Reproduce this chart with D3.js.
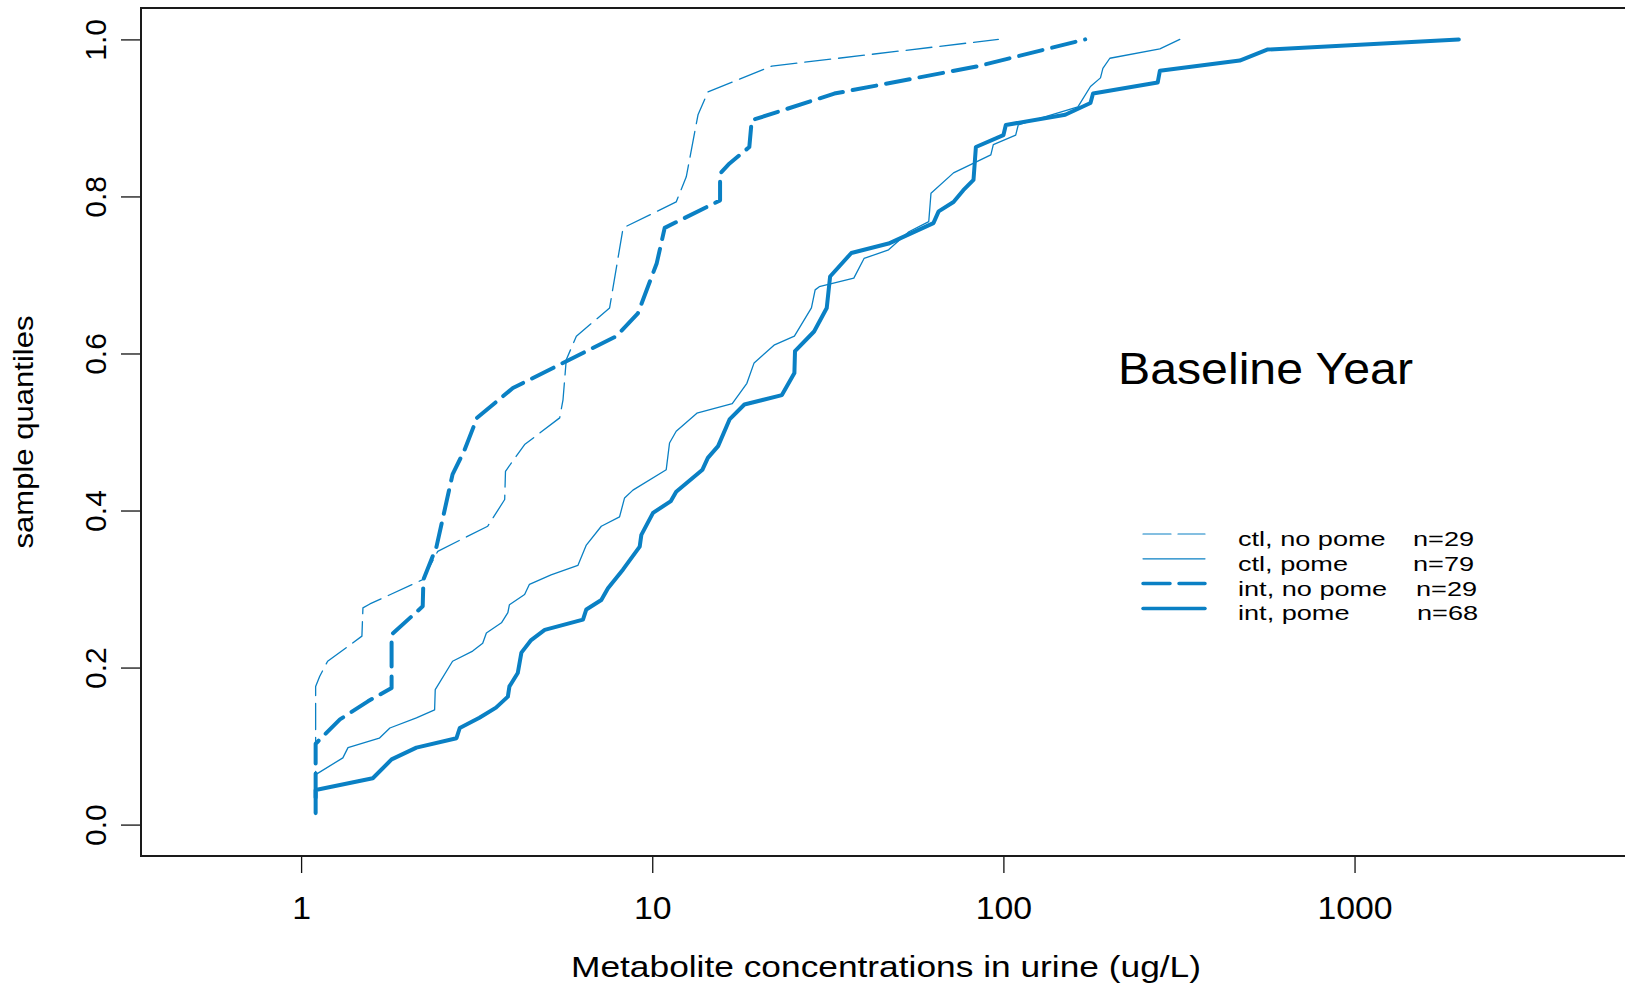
<!DOCTYPE html>
<html>
<head>
<meta charset="utf-8">
<script src="https://cdn.jsdelivr.net/npm/d3@7"></script>
<style>
  html, body { margin: 0; padding: 0; background: #fff; }
  svg { display: block; font-family: "Liberation Sans", Arial, Helvetica, sans-serif; }
</style>
</head>
<body>
<svg id="chart" width="1625" height="987"></svg>
<script>
// Empirical quantile curves: metabolite concentration (ug/L) vs sample quantile.
const ctlNoPomeConc = [1.1, 1.1, 1.1, 1.13, 1.19, 1.49, 1.50, 1.57, 2.22, 2.45, 3.40, 3.80, 3.82, 4.33, 5.45, 5.57, 5.69, 6.08, 7.56, 8.26, 11.7, 12.5, 13.5, 14.4, 21.9, 96.7];
const ctlNoPomeQ    = [0.0345, 0.142, 0.176, 0.189, 0.208, 0.240, 0.276, 0.281, 0.312, 0.348, 0.380, 0.414, 0.450, 0.484, 0.518, 0.541, 0.592, 0.622, 0.658, 0.760, 0.793, 0.825, 0.904, 0.933, 0.966, 1.0];

const ctlPomeConc = [1.1, 1.1, 1.315, 1.36, 1.67, 1.79, 2.13, 2.40, 2.41, 2.70, 3.08, 3.29, 3.37, 3.72, 3.88, 3.92, 4.33, 4.47, 5.15, 6.14, 6.49, 7.16, 8.07, 8.34, 8.81, 10.96, 11.2, 11.7, 13.4, 16.9, 18.6, 19.5, 22.3, 25.4, 28.4, 29.1, 29.9, 37.5, 40.1, 47.1, 53.8, 61.3, 62.2, 72.1, 92.1, 93.6, 108.4, 110.2, 163, 177, 189, 192, 201, 279, 318];
const ctlPomeQ    = [0.0127, 0.0636, 0.085, 0.098, 0.110, 0.123, 0.136, 0.146, 0.172, 0.208, 0.221, 0.231, 0.244, 0.257, 0.270, 0.280, 0.293, 0.306, 0.318, 0.330, 0.356, 0.380, 0.392, 0.416, 0.426, 0.452, 0.486, 0.501, 0.524, 0.536, 0.562, 0.588, 0.611, 0.622, 0.658, 0.681, 0.685, 0.696, 0.721, 0.732, 0.755, 0.768, 0.804, 0.830, 0.853, 0.866, 0.878, 0.891, 0.914, 0.940, 0.951, 0.963, 0.976, 0.988, 1.0];

const intNoPomeConc = [1.1, 1.1, 1.14, 1.29, 1.55, 1.81, 1.81, 2.22, 2.23, 2.43, 2.70, 2.92, 3.17, 4.01, 7.90, 9.10, 10.3, 10.85, 15.6, 15.6, 16.6, 18.9, 19.2, 33.0, 84.9, 171];
const intNoPomeQ    = [0.0345, 0.103, 0.110, 0.134, 0.157, 0.174, 0.242, 0.278, 0.312, 0.354, 0.446, 0.477, 0.518, 0.556, 0.622, 0.651, 0.715, 0.760, 0.795, 0.829, 0.842, 0.863, 0.897, 0.931, 0.966, 1.0];

const intPomeConc = [1.1, 1.1, 1.6, 1.81, 2.13, 2.77, 2.83, 3.22, 3.59, 3.88, 3.92, 4.14, 4.24, 4.52, 4.94, 6.35, 6.49, 7.16, 7.48, 8.26, 9.21, 9.31, 10.05, 11.3, 11.7, 13.9, 14.4, 15.4, 16.6, 18.3, 23.4, 25.4, 25.5, 28.9, 31.4, 32.1, 36.9, 47.1, 63.2, 65.4, 72.1, 76.9, 82.2, 83.5, 100, 101.6, 150, 177, 180, 275, 279, 471, 564, 1981];
const intPomeQ    = [0.0147, 0.044, 0.059, 0.083, 0.098, 0.110, 0.123, 0.136, 0.149, 0.163, 0.176, 0.193, 0.219, 0.235, 0.248, 0.261, 0.274, 0.286, 0.301, 0.325, 0.354, 0.369, 0.397, 0.412, 0.424, 0.452, 0.467, 0.482, 0.516, 0.535, 0.547, 0.575, 0.603, 0.628, 0.658, 0.698, 0.728, 0.740, 0.766, 0.781, 0.793, 0.808, 0.821, 0.863, 0.878, 0.891, 0.904, 0.919, 0.931, 0.945, 0.960, 0.973, 0.987, 1.0];

const seriesNames = ["ctl, no pome", "ctl, pome", "int, no pome", "int, pome"];
const seriesN     = ["n=29", "n=79", "n=29", "n=68"];
const xTickValues = [1, 10, 100, 1000];
const xTickLabels = ["1", "10", "100", "1000"];
const yTickValues = [0, 0.2, 0.4, 0.6, 0.8, 1.0];
const yTickLabels = ["0.0", "0.2", "0.4", "0.6", "0.8", "1.0"];

const panelTitle = "Baseline Year";
const xTitle = "Metabolite concentrations in urine (ug/L)";
const yTitle = "sample quantiles";

// ---- layout & styling ----
const blue = "#0a80c4";
const plot = { left: 141, right: 1626, top: 8, bottom: 856 };
const styles = [
  { width: 1.3, dash: "26,8" },
  { width: 1.3, dash: null },
  { width: 4.0, dash: "24,10" },
  { width: 4.0, dash: null }
];

const svg = d3.select("#chart");

const x = d3.scaleLog().domain([0.35, 5930]).range([plot.left, plot.right]);
const y = d3.scaleLinear().domain([-0.04, 1.04]).range([plot.bottom, plot.top]);

// stretch a text's glyphs horizontally by factor k
function stretch(sel, k) {
  sel.each(function () {
    const L = this.getComputedTextLength();
    this.setAttribute("lengthAdjust", "spacingAndGlyphs");
    this.setAttribute("textLength", (L * k).toFixed(1));
  });
}
function fitWidth(sel, w) {
  sel.attr("lengthAdjust", "spacingAndGlyphs").attr("textLength", w);
}

// ---- curves ----
const seriesData = [
  d3.zip(ctlNoPomeConc, ctlNoPomeQ),
  d3.zip(ctlPomeConc, ctlPomeQ),
  d3.zip(intNoPomeConc, intNoPomeQ),
  d3.zip(intPomeConc, intPomeQ)
];
const line = d3.line().x(d => x(d[0])).y(d => y(d[1]));

svg.append("g").selectAll("path")
  .data(seriesData)
  .join("path")
  .attr("d", line)
  .attr("fill", "none")
  .attr("stroke", blue)
  .attr("stroke-width", (d, i) => styles[i].width)
  .attr("stroke-dasharray", (d, i) => styles[i].dash)
  .attr("stroke-linecap", "round")
  .attr("stroke-linejoin", "round");

// ---- axes ----
const xAxis = d3.axisBottom(x)
  .tickValues(xTickValues)
  .tickFormat((d, i) => xTickLabels[i])
  .tickSize(17)
  .tickPadding(0);
const gx = svg.append("g").attr("transform", `translate(0,${plot.bottom})`).call(xAxis);
gx.select(".domain")
  .attr("d", `M${x(xTickValues[0])},0H${x(xTickValues[xTickValues.length - 1])}`)
  .attr("stroke", "#111").attr("stroke-width", 1.3);
gx.selectAll(".tick line").attr("stroke", "#111").attr("stroke-width", 1.3);
gx.selectAll(".tick text")
  .attr("y", 63).attr("dy", null)
  .attr("fill", "#000")
  .style("font-size", "31px")
  .style("font-family", '"Liberation Sans", Arial, sans-serif')
  .call(stretch, 1.09);

const yAxis = d3.axisLeft(y)
  .tickValues(yTickValues)
  .tickFormat((d, i) => yTickLabels[i])
  .tickSize(20)
  .tickPadding(0);
const gy = svg.append("g").attr("transform", `translate(${plot.left},0)`).call(yAxis);
gy.select(".domain")
  .attr("d", `M0,${y(0)}V${y(1)}`)
  .attr("stroke", "#111").attr("stroke-width", 1.3);
gy.selectAll(".tick line").attr("stroke", "#111").attr("stroke-width", 1.3);
gy.selectAll(".tick text")
  .attr("x", null).attr("dy", null)
  .attr("transform", `translate(${106 - plot.left},0) rotate(-90)`)
  .attr("text-anchor", "middle")
  .attr("fill", "#000")
  .style("font-size", "30px")
  .style("font-family", '"Liberation Sans", Arial, sans-serif');

// plot frame
svg.append("rect")
  .attr("x", plot.left).attr("y", plot.top)
  .attr("width", plot.right - plot.left).attr("height", plot.bottom - plot.top)
  .attr("fill", "none").attr("stroke", "#1a1a1a").attr("stroke-width", 2);

// ---- titles ----
svg.append("text")
  .attr("x", 886).attr("y", 977)
  .attr("text-anchor", "middle")
  .style("font-size", "30px")
  .text(xTitle)
  .call(fitWidth, 630);

svg.append("text")
  .attr("transform", `translate(33,${(plot.top + plot.bottom) / 2}) rotate(-90)`)
  .attr("text-anchor", "middle")
  .style("font-size", "27px")
  .text(yTitle)
  .call(fitWidth, 233);

svg.append("text")
  .attr("x", 1118).attr("y", 384)
  .style("font-size", "44px")
  .text(panelTitle)
  .call(fitWidth, 295);

// ---- legend ----
const legend = { lineX0: 1143, lineX1: 1205, textX: 1238, nX: [1413, 1413, 1416, 1417], y0: 534, step: 24.8 };
const lg = svg.append("g");
const rows = lg.selectAll("g").data(seriesNames).join("g")
  .attr("transform", (d, i) => `translate(0,${legend.y0 + i * legend.step})`);
rows.append("line")
  .attr("x1", legend.lineX0).attr("x2", legend.lineX1)
  .attr("stroke", blue)
  .attr("stroke-width", (d, i) => styles[i].width > 2 ? 3.5 : 1.2)
  .attr("stroke-dasharray", (d, i) => styles[i].dash ? (styles[i].width > 2 ? "27,9" : "28,7") : null)
  .attr("stroke-linecap", "round");
rows.append("text")
  .attr("x", legend.textX).attr("y", 12)
  .style("font-size", "19.5px")
  .text(d => d)
  .call(stretch, 1.39);
rows.append("text")
  .attr("x", (d, i) => legend.nX[i]).attr("y", 12)
  .style("font-size", "19.5px")
  .text((d, i) => seriesN[i])
  .call(stretch, 1.39);
</script>
</body>
</html>
